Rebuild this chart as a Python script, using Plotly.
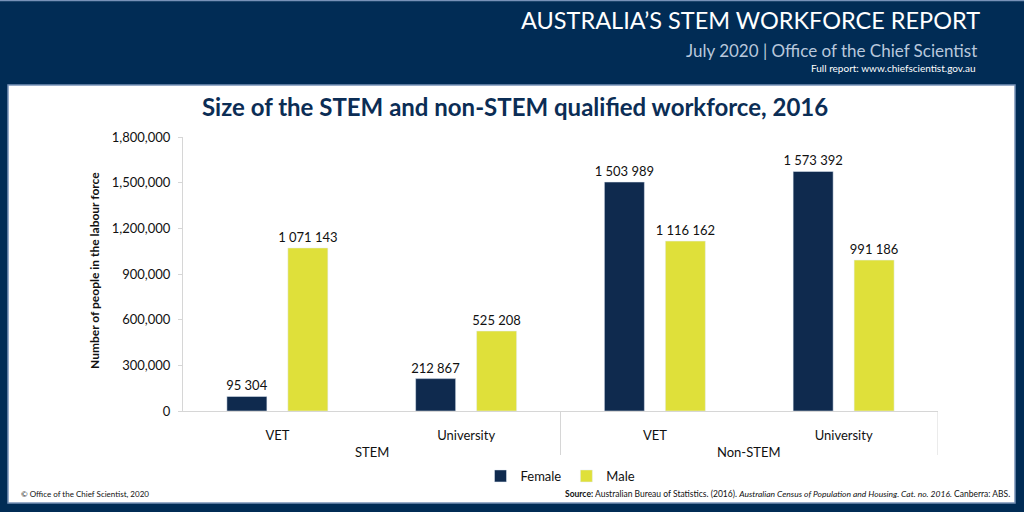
import plotly.graph_objects as go

groups = ["STEM", "STEM", "Non-STEM", "Non-STEM"]
levels = ["VET", "University", "VET", "University"]
female = [95304, 212867, 1503989, 1573392]
male = [1071143, 525208, 1116162, 991186]
y_ticks = [0, 300000, 600000, 900000, 1200000, 1500000, 1800000]

NAVY_BG = "#012c55"
NAVY_BAR = "#0f2a4e"
YELLOW = "#dfe03a"
FONT = "Lato, 'Open Sans', sans-serif"

W, H = 1024, 512
L, R, T, B = 183, 938, 137, 411


def px(x):
    return (x - L) / (R - L)


def py(y):
    return (B - y) / (B - T)


def fmt(v):
    return f"{v:,}".replace(",", " ")


xs = list(range(len(levels)))

fig = go.Figure()
fig.add_trace(go.Bar(
    x=xs, y=female, name="Female", marker_color=NAVY_BAR,
    text=[fmt(v) for v in female], textposition="outside", constraintext="none",
    textfont=dict(size=13, color="#111111", family=FONT), cliponaxis=False,
))
fig.add_trace(go.Bar(
    x=xs, y=male, name="Male", marker_color=YELLOW,
    text=[fmt(v) for v in male], textposition="outside", constraintext="none",
    textfont=dict(size=13, color="#111111", family=FONT), cliponaxis=False,
))

fig.update_layout(
    width=W, height=H,
    margin=dict(l=L, r=W - R, t=T, b=H - B, pad=0),
    paper_bgcolor=NAVY_BG, plot_bgcolor="rgba(0,0,0,0)",
    barmode="group", bargap=0.354, bargroupgap=0.344,
    font=dict(family=FONT, size=13, color="#111111"),
    showlegend=True,
    legend=dict(orientation="h", x=0.5, xanchor="center", y=py(476), yanchor="middle",
                font=dict(size=13, color="#111111"), bgcolor="rgba(0,0,0,0)",
                itemwidth=30, tracegroupgap=0),
    xaxis=dict(range=[-0.5, 3.5], tickmode="array", tickvals=xs, ticktext=levels,
               showgrid=False, zeroline=False, showline=True, linecolor="#d6d6d6",
               linewidth=1, ticks="", ticklabelstandoff=12,
               tickfont=dict(size=13, color="#111111")),
    yaxis=dict(range=[0, 1800000], tickmode="array", tickvals=y_ticks,
               tickformat=",", showgrid=False, zeroline=False, showline=True,
               linecolor="#d6d6d6", linewidth=1, ticks="outside", ticklen=4,
               tickcolor="#d6d6d6", ticklabelstandoff=5,
               tickfont=dict(size=13, color="#111111")),
)

# white panel
fig.add_shape(type="rect", xref="paper", yref="paper",
              x0=px(8), x1=px(1015), y0=py(503), y1=py(85),
              fillcolor="white", line=dict(color="#7892b8", width=1.5), layer="below")
# thin top line
fig.add_shape(type="line", xref="paper", yref="paper",
              x0=px(0), x1=px(1024), y0=py(0.5), y1=py(0.5),
              line=dict(color="#7892b8", width=1.5))

# group dividers
for xd in [1.5, 3.5]:
    fig.add_shape(type="line", xref="x", yref="paper", x0=xd, x1=xd,
                  y0=0, y1=py(455), line=dict(color="#d6d6d6", width=1))

# group labels
for g, xc in [("STEM", 0.5), ("Non-STEM", 2.5)]:
    fig.add_annotation(text=g, xref="x", yref="paper", x=xc, y=py(452),
                       showarrow=False, font=dict(size=13, color="#111111"),
                       xanchor="center", yanchor="middle")

# y-axis title
fig.add_annotation(text="<b>Number of people in the labour force</b>", xref="paper", yref="paper",
                   x=px(94), y=py(271), textangle=-90, showarrow=False,
                   font=dict(size=12, color="#111111"), xanchor="center", yanchor="middle")

# chart title
fig.add_annotation(text="<b>Size of the STEM and non-STEM qualified workforce, 2016</b>",
                   xref="paper", yref="paper", x=px(515), y=py(106), showarrow=False,
                   font=dict(size=24, color="#0b2d55"), xanchor="center", yanchor="middle")

# header
fig.add_annotation(text="AUSTRALIA\u2019S STEM WORKFORCE REPORT", xref="paper", yref="paper",
                   x=px(982), y=py(20), showarrow=False, xanchor="right", yanchor="middle",
                   font=dict(size=23.5, color="white"))
fig.add_annotation(text="July 2020 | Office of the Chief Scientist", xref="paper", yref="paper",
                   x=px(979), y=py(50), showarrow=False, xanchor="right", yanchor="middle",
                   font=dict(size=17, color="#b9c8dc"))
fig.add_annotation(text="Full report: www.chiefscientist.gov.au", xref="paper", yref="paper",
                   x=px(978), y=py(68), showarrow=False, xanchor="right", yanchor="middle",
                   font=dict(size=10, color="white"))

# footer
fig.add_annotation(text="\u00a9 Office of the Chief Scientist, 2020", xref="paper", yref="paper",
                   x=px(19), y=py(494), showarrow=False, xanchor="left", yanchor="middle",
                   font=dict(size=8, color="#111111"))
fig.add_annotation(text="<b>Source:</b> Australian Bureau of Statistics. (2016). <i>Australian Census of Population and Housing. Cat. no. 2016.</i> Canberra: ABS.",
                   xref="paper", yref="paper",
                   x=px(1012), y=py(494), showarrow=False, xanchor="right", yanchor="middle",
                   font=dict(size=8.5, color="#111111"))

fig.write_html("out.html")
